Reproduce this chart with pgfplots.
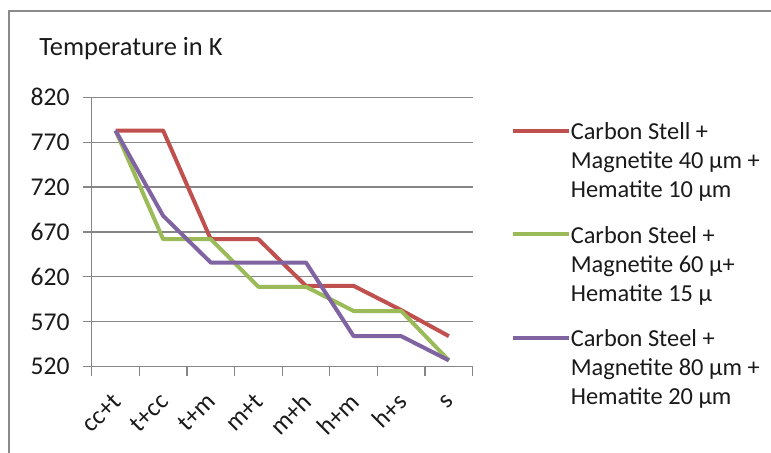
\documentclass[border=0pt]{standalone}
\usepackage{pgfplots}
\pgfplotsset{compat=1.18}
\usepackage{fontspec}
\setmainfont{Carlito}
\definecolor{cred}{HTML}{C0504D}
\definecolor{cgreen}{HTML}{9BBB59}
\definecolor{cpurple}{HTML}{8064A2}
\definecolor{cgrid}{HTML}{868686}
\definecolor{cframe}{HTML}{8A8A8A}
\definecolor{ctext}{HTML}{1A1A1A}
\begin{document}
\begin{tikzpicture}[font=\fontsize{13.2pt}{14.5pt}\selectfont, x=1pt, y=1pt]
\path[use as bounding box] (0,0) rectangle (385.5,226.5);
\draw[cframe, line width=1pt] (4.25,0) -- (4.25,220.9) -- (385.5,220.9);
\node[anchor=west, inner sep=0, text=ctext] at (19.5,202.1) {Temperature in K};
\begin{axis}[
  at={(45.85pt,43.15pt)}, anchor=south west,
  scale only axis, width=190.5pt, height=134.7pt,
  xmin=-0.5, xmax=7.5, ymin=520, ymax=820,
  ytick={520,570,...,820},
  xtick={0,...,7},
  xticklabels={cc+t,t+cc,t+m,m+t,m+h,h+m,h+s,s},
  minor xtick={-0.5,0.5,...,7.5},
  major x tick style={draw=none},
  minor x tick style={cgrid, line width=0.6pt},
  y tick style={cgrid, line width=0.6pt},
  tick align=outside,
  major tick length=4.5pt, minor tick length=4.5pt,
  axis x line*=bottom, axis y line*=left,
  axis line style={cgrid, line width=0.6pt, -},
  ymajorgrids, grid style={cgrid, line width=0.6pt},
  /pgf/number format/assume math mode=true,
  /pgf/number format/.cd, 1000 sep={}, /pgfplots/.cd,
  ticklabel style={text=ctext, font=\fontsize{12.8pt}{14.5pt}\selectfont},
  yticklabel style={xshift=-3pt},
  xticklabel style={yshift=-8.5pt, xshift=3pt, rotate=45, anchor=east},
  legend style={at={(1.099,0.919)}, anchor=north west, draw=none, fill=none,
    inner sep=0pt, row sep=40pt, column sep=0pt,
    font=\fontsize{12.2pt}{14.5pt}\selectfont,
    nodes={inner sep=0pt, text=ctext}},
  legend cell align=left,
  legend image code/.code={\draw[line width=2pt] (0pt,0pt) -- (28pt,0pt);},
  every axis plot/.append style={line width=2pt, line join=round, mark=none},
]
\addplot[cred] coordinates {(0,783) (1,783) (2,662) (3,662) (4,610) (5,610) (6,583) (7,554)};
\addlegendentry{\begin{tabular}[t]{@{}l@{}}Carbon Stell +\\Magnetite 40 µm +\\Hematite 10 µm\end{tabular}}
\addplot[cgreen] coordinates {(0,783) (1,662) (2,662) (3,609) (4,609) (5,582) (6,582) (7,527)};
\addlegendentry{\begin{tabular}[t]{@{}l@{}}Carbon Steel +\\Magnetite 60 µ+\\Hematite 15 µ\end{tabular}}
\addplot[cpurple] coordinates {(0,783) (1,688) (2,636) (3,636) (4,636) (5,554) (6,554) (7,527)};
\addlegendentry{\begin{tabular}[t]{@{}l@{}}Carbon Steel +\\Magnetite 80 µm +\\Hematite 20 µm\end{tabular}}
\end{axis}
\end{tikzpicture}
\end{document}
